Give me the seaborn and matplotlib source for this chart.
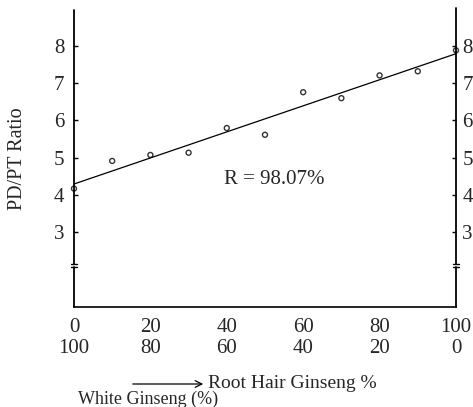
import matplotlib
matplotlib.use("Agg")
import matplotlib.pyplot as plt
from matplotlib.patches import FancyArrowPatch
from matplotlib.transforms import ScaledTranslation
import seaborn as sns

# data
root_hair_pct = [0, 10, 20, 30, 40, 50, 60, 70, 80, 90, 100]
pd_pt_ratio = [4.17, 4.91, 5.07, 5.13, 5.79, 5.61, 6.75, 6.59, 7.20, 7.31, 7.87]
x_ticks = [0, 20, 40, 60, 80, 100]
x_tick_labels = ["0\n100", "20\n80", "40\n60", "60\n40", "80\n20", "100\n0"]
y_ticks = [3, 4, 5, 6, 7, 8]
r_label = "R = 98.07%"

sns.set_theme(style="white")
plt.rcParams['font.family'] = ['Liberation Serif', 'DejaVu Serif']

fig = plt.figure(figsize=(4.73, 4.07), dpi=100)
ax = fig.add_axes([0.1564, 0.2457, 0.8076, 0.7297])

sns.regplot(x=root_hair_pct, y=pd_pt_ratio, ax=ax, ci=None, truncate=False,
            scatter_kws=dict(facecolors='none', edgecolors='black', s=13,
                             linewidths=1.0, clip_on=False, zorder=3),
            line_kws=dict(color='black', lw=0.9))

ax.set_xlim(0, 100)
ax.set_ylim(1.0, 8.95)

# spines: bottom normal, left/right drawn with a break
for s in ['left', 'right', 'top']:
    ax.spines[s].set_visible(False)
ax.spines['bottom'].set_color('black')
ax.spines['bottom'].set_linewidth(1.2)

ytr = ax.get_yaxis_transform()
b_lo, b_hi = 2.07, 2.15
for xa, top in [(0, 8.95), (1, 9.0)]:
    ax.plot([xa, xa], [1.0, b_lo], color='black', lw=1.3, transform=ytr, clip_on=False)
    ax.plot([xa, xa], [b_hi, top], color='black', lw=1.3, transform=ytr, clip_on=False)
    for yb in (b_lo, b_hi):
        ax.plot([xa - 0.008, xa + 0.008], [yb, yb], color='black', lw=1.0,
                transform=ytr, clip_on=False)

ax.set_xticks(x_ticks)
ax.set_xticklabels(x_tick_labels, fontsize=15, linespacing=1.1)
ax.set_yticks(y_ticks)
ax.set_yticklabels([str(v) for v in y_ticks], fontsize=15)
ax.tick_params(axis='x', direction='inout', length=4, width=1, color='black', pad=6)
ax.tick_params(axis='y', direction='in', length=3, width=1, color='black', pad=7,
               left=True, right=True, labelleft=True, labelright=True)

ax.set_ylabel("PD/PT Ratio", fontsize=14.5, labelpad=19)

ax.text(0.525, 0.43, r_label, transform=ax.transAxes, fontsize=15,
        ha='center', va='center')

# bottom annotation
fig.add_artist(FancyArrowPatch(
    (130 / 473, 1 - 384 / 407), (206 / 473, 1 - 384 / 407),
    transform=fig.transFigure, arrowstyle='->', mutation_scale=12,
    color='black', lw=0.9))
fig.text(208 / 473, 1 - 384 / 407, "Root Hair Ginseng %", fontsize=14,
         ha='left', va='center')
fig.text(78 / 473, 1 - 399 / 407, "White Ginseng (%)", fontsize=13,
         ha='left', va='center')

fig.canvas.draw()
# nudge right-hand tick labels so they fit inside the figure
for t in ax.yaxis.get_major_ticks():
    t.label2.set_transform(t.label2.get_transform() +
                           ScaledTranslation(-2.5 / 72, 0, fig.dpi_scale_trans))

fig.savefig("out.png", dpi=100, facecolor='white')
